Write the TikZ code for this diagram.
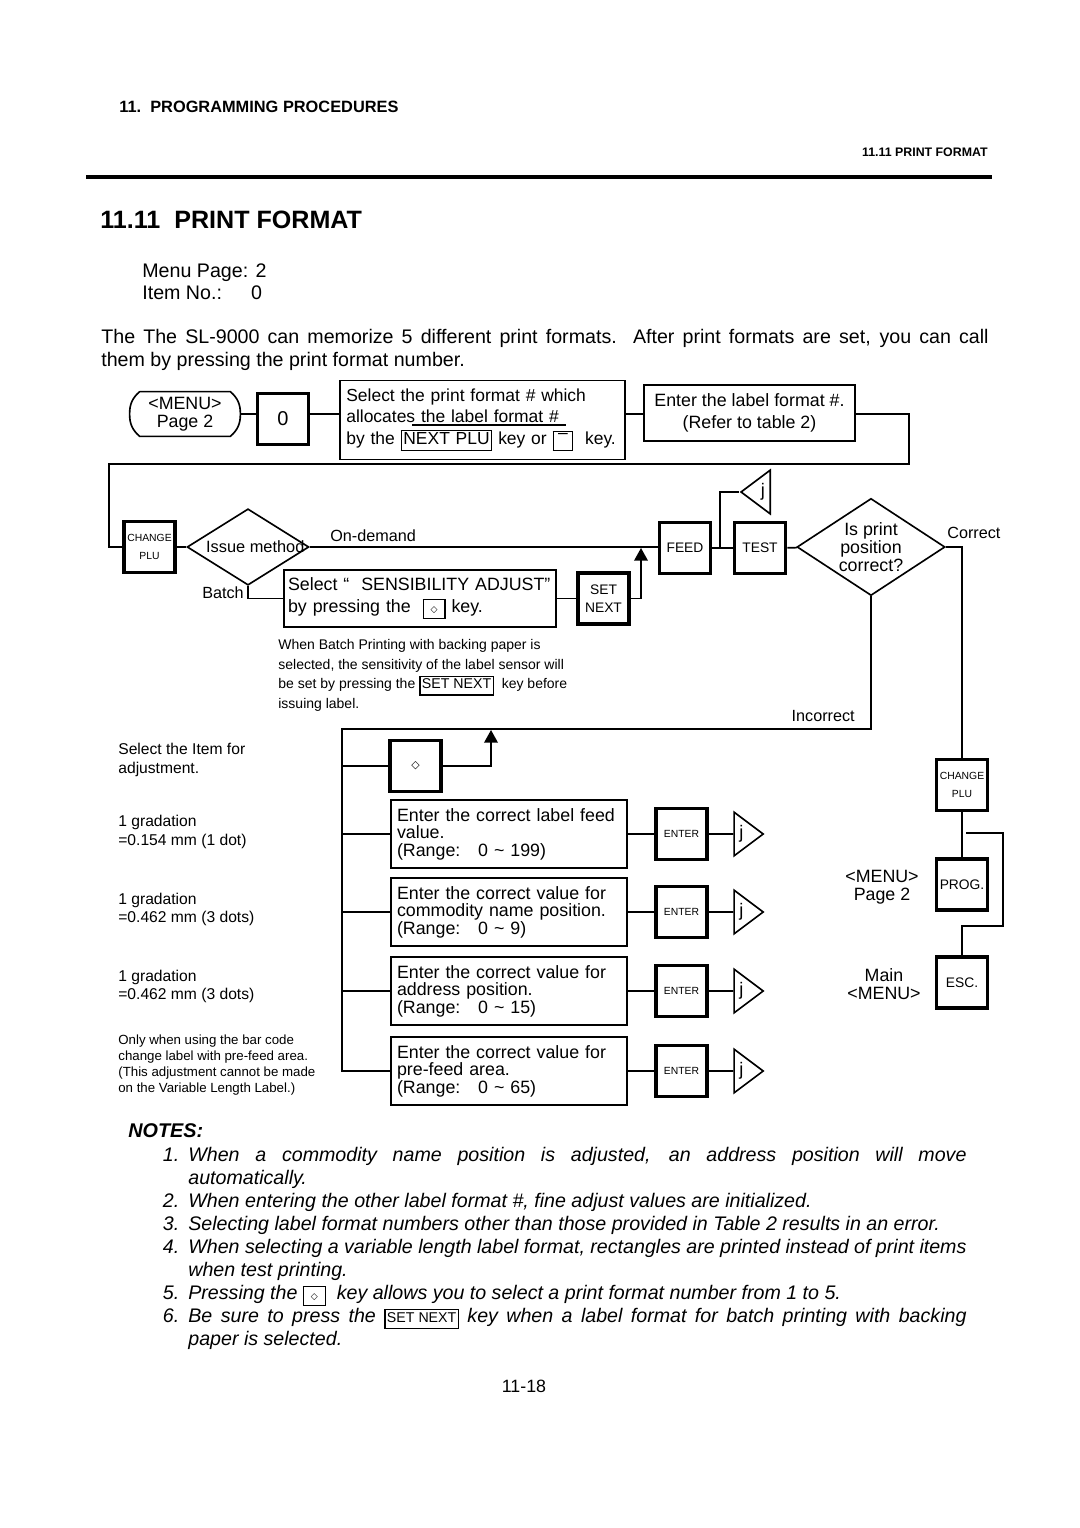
\documentclass[tikz,border=0pt]{standalone}
\usepackage{fontspec}
\setmainfont{Liberation Sans}
\newfontfamily\symfont{DejaVu Sans}
\usetikzlibrary{positioning,arrows.meta,shapes.geometric,calc}
\setlength{\fboxsep}{0.8pt}
\setlength{\fboxrule}{0.7pt}
\newcommand{\keylab}[1]{\fbox{\rule[-2.2pt]{0pt}{8pt}#1}}
\newcommand{\dkey}[1][5]{{\symfont\fontsize{#1}{#1}\selectfont ◇}}
\newcommand{\noteitem}[1]{\par\noindent\llap{#1.\hspace{5pt}}}
\tikzset{
  line/.style={line width=0.9pt},
  arr/.style={line width=0.9pt, -{Triangle[length=7pt,width=7.5pt]}},
  keybox/.style={rectangle, draw, line width=2pt, minimum width=28pt, minimum height=28pt,
                 inner sep=1pt, align=center, font=\fontsize{7.6}{10}\selectfont},
  keytiny/.style={keybox, font=\fontsize{5.7}{10}\selectfont},
  txtbox/.style={rectangle, draw, line width=0.9pt, align=left, inner xsep=4.4pt, inner ysep=2pt,
                 font=\fontsize{9.8}{11.8}\selectfont},
  entrybox/.style={txtbox, text width=123.2pt, inner xsep=3.3pt, minimum height=37.4pt,
                   font=\fontsize{9.8}{9.6}\selectfont},
  decision/.style={diamond, draw, line width=0.9pt, inner sep=0pt},
  tri/.style={isosceles triangle, isosceles triangle stretches, draw, line width=0.9pt,
              minimum width=24pt, minimum height=16pt, inner sep=0pt, font=\fontsize{10}{10}\selectfont},
  lab/.style={inner sep=0pt, font=\fontsize{8.9}{10}\selectfont},
  side/.style={inner sep=0pt, align=left, font=\fontsize{8.6}{10}\selectfont},
  body/.style={inner sep=0pt, font=\fontsize{10.8}{12.65}\selectfont},
  boxtxt/.style={inner sep=0pt, align=center, font=\fontsize{9.8}{10}\selectfont},
}

\begin{document}
\begin{tikzpicture}[x=0.55pt, y=-0.55pt]
\fill[white] (0,0) rectangle (1080,1528);
\useasboundingbox (0,0) rectangle (1080,1528);

% page head
\node[inner sep=0pt, anchor=west, font=\bfseries\fontsize{9}{10}\selectfont] (chap) at (119,107) {11.\ \ PROGRAMMING PROCEDURES};
\node[inner sep=0pt, anchor=east, font=\bfseries\fontsize{6.8}{8}\selectfont] (sect) at (988,152) {11.11 PRINT FORMAT};
\draw[line width=1.8pt] (86,177) -- (992,177);
\node[inner sep=0pt, anchor=west, font=\bfseries\fontsize{13.8}{16}\selectfont] (ttl) at (100,220) {11.11\ \ PRINT FORMAT};
\node[body, anchor=west, align=left, font=\fontsize{10.8}{12.1}\selectfont] (menupg) at (142,282) {Menu Page: 2\\Item No.:\hspace{16pt}0};
\node[body, anchor=north west, text width=488pt, align=justify] (intro) at (101,329)
  {The The SL-9000 can memorize 5 different print formats.\ \ After print formats are set, you can call\linebreak them by pressing the print format number.};

% top row
\node[boxtxt, minimum width=49.5pt, minimum height=24.2pt] (menu) at (185,414) {<MENU>\\Page 2};
\draw[line] (menu.north west) -- (menu.north east) to[bend left=25] ([xshift=5.5pt]menu.east)
  to[bend left=25] (menu.south east) -- (menu.south west) to[bend left=25] ([xshift=-5.5pt]menu.west)
  to[bend left=25] (menu.north west);
\node[keybox, font=\fontsize{11}{12}\selectfont] (zero) at (283,419) {0};
\node[txtbox, text width=149.8pt, inner xsep=3.5pt, minimum height=43.5pt, font=\fontsize{9.6}{11.8}\selectfont] (sel) at (482.5,420)
  {Select the print format \# which\\allocates the label format \#\\by the \keylab{NEXT PLU} key or \keylab{\makebox[8.5pt]{\raisebox{3pt}{–}}}\ \ key.};
\draw[line width=0.6pt] (412,425) -- (566,425);
\node[txtbox, align=center, minimum width=116pt, minimum height=30.8pt] (lbl) at (749.5,413)
  {Enter the label format \#.\\(Refer to table 2)};
\draw[line] ([xshift=5.5pt]menu.east) -- (menu -| zero.west);
\draw[line] (zero.east |- menu) -- (sel.west |- menu);
\draw[line] (sel.east |- menu) -- (lbl.west |- menu);
\coordinate (loopR) at (909,464);
\coordinate (loopL) at (109,464);

% issue method row
\node[keytiny] (chg1) at (149.5,547) {CHANGE\\PLU};
\draw[line] (lbl.east |- menu) -| (loopR) -- (loopL) |- (chg1.west);
\node[decision, minimum width=67pt, minimum height=42pt, font=\fontsize{9}{10}\selectfont] (issue) at (248,547) {\makebox[0pt]{\hspace{8pt}Issue method}};
\draw[line] (chg1) -- (issue);
\node[keybox] (feed) at (685,548) {FEED};
\node[keybox] (test) at (760,548) {TEST};
\draw[line] (issue.east) -- (issue.east -| feed.west);
\node[lab, anchor=west] (ondem) at (330,536) {On-demand};
\node[txtbox, text width=145.2pt, inner xsep=2.2pt, minimum height=31.35pt] (sens) at (420,598.5)
  {Select “\ \ SENSIBILITY ADJUST”\\by pressing the\ \ \keylab{\makebox[9.6pt]{\dkey}}\ key.};
\node[keybox] (setnext) at (603.5,598.5) {SET\\NEXT};
\draw[line] (issue.south) |- (sens.west);
\node[lab, anchor=east] (batch) at (244,593) {Batch};
\draw[line] (sens) -- (setnext);
\coordinate (tipA) at (641,548);
\draw[arr] (setnext.east) -| (tipA);
\draw[line] (feed) -- (test);
\coordinate (jt) at (720,548);
\node[tri, shape border rotate=180] (jtop) at (763,492) {j};
\draw[line] (jt) |- (jtop.apex);
\node[decision, minimum width=81.4pt, minimum height=53.4pt,
      label={[boxtxt]center:Is print\\position\\correct?}] (chk) at (871,547) {};
\draw[line] (test) -- (chk);
\node[lab, anchor=west] (corr) at (947,533) {Correct};
\node[keytiny] (chg2) at (962,785) {CHANGE\\PLU};
\draw[line] (chk.east) -| (chg2.north);
\node[lab, anchor=east] (incorr) at (855,716) {Incorrect};

% note on batch printing
\node[inner sep=0pt, anchor=west, align=left, font=\fontsize{7.7}{10.8}\selectfont] (batchnote) at (278,675.5)
  {When Batch Printing with backing paper is\\selected, the sensitivity of the label sensor will\\be set by pressing the \keylab{\fontsize{7.8}{9}\selectfont SET NEXT}\ \ key before\\issuing label.};

% adjustment loop
\coordinate (busT) at (342,729);
\node[keybox] (dkey) at (415.5,766) {\dkey[6]};
\coordinate (tipB) at (491,730);
\draw[arr] (dkey.east) -| (tipB);
\foreach \n/\yy/\entrytext in {
  1/834/{Enter the correct label feed\\value.\\(Range:\ \ \ 0 \textasciitilde\ 199)},
  2/912/{Enter the correct value for\\commodity name position.\\(Range:\ \ \ 0 \textasciitilde\ 9)},
  3/991/{Enter the correct value for\\address position.\\(Range:\ \ \ 0 \textasciitilde\ 15)},
  4/1071/{Enter the correct value for\\pre-feed area.\\(Range:\ \ \ 0 \textasciitilde\ 65)}} {
  \node[entrybox] (e\n) at (509,\yy) {\entrytext};
  \node[keytiny, right=14.5pt of e\n] (ent\n) {ENTER};
  \node[tri, right=13.5pt of ent\n] (j\n) {j};
  \draw[line] (e\n) -- (ent\n) -- (j\n);
}
\draw[line] (chk.south) |- (busT) |- (e4.west);
\foreach \n in {1,2,3}
  \draw[line] (busT |- e\n.west) -- (e\n.west);
\draw[line] (busT |- dkey) -- (dkey);

% right column
\node[keybox] (prog) at (962,884.5) {PROG.};
\node[keybox] (esc) at (962,982.5) {ESC.};
\draw[line] (chg2) -- (prog);
\coordinate (brA) at (966,833);
\coordinate (brB) at (1003,926);
\draw[line] (brA) -| (brB) -| (esc.north);
\node[boxtxt] (menu2) at (882,887) {<MENU>\\Page 2};
\node[boxtxt] (mainm) at (884,984) {Main\\<MENU>};

% left side remarks
\node[side, anchor=west] (selitem) at (118,760) {Select the Item for\\adjustment.};
\node[side, anchor=west] (grad1) at (118,832) {1 gradation\\=0.154 mm (1 dot)};
\node[side, anchor=west] (grad2) at (118,909.5) {1 gradation\\=0.462 mm (3 dots)};
\node[side, anchor=west] (grad3) at (118,986.5) {1 gradation\\=0.462 mm (3 dots)};
\node[side, anchor=west, font=\fontsize{7.3}{8.8}\selectfont] (prefeed) at (118,1065)
  {Only when using the bar code\\change label with pre-feed area.\\(This adjustment cannot be made\\on the Variable Length Label.)};

% notes
\node[inner sep=0pt, anchor=west, font=\bfseries\itshape\fontsize{10.9}{12}\selectfont] (nhead) at (128,1131) {NOTES:};
\node[body, anchor=north west, text width=428pt, align=justify, font=\itshape\fontsize{10.8}{12.65}\selectfont] (notes) at (188,1138) {%
\noteitem{1}When a commodity name position is adjusted, an address position will move\linebreak automatically.
\noteitem{2}When entering the other label format \#, fine adjust values are initialized.
\noteitem{3}Selecting label format numbers other than those provided in Table 2 results in an error.
\noteitem{4}When selecting a variable length label format, rectangles are printed instead of print items\linebreak when test printing.
\noteitem{5}Pressing the \keylab{\makebox[9.6pt]{\dkey}}\ \ key allows you to select a print format number from 1 to 5.
\noteitem{6}Be sure to press the \keylab{\upshape\fontsize{7.8}{9}\selectfont SET NEXT} key when a label format for batch printing with backing\linebreak paper is selected.};
\node[boxtxt] (pgno) at (524,1386) {11-18};
\end{tikzpicture}
\end{document}
